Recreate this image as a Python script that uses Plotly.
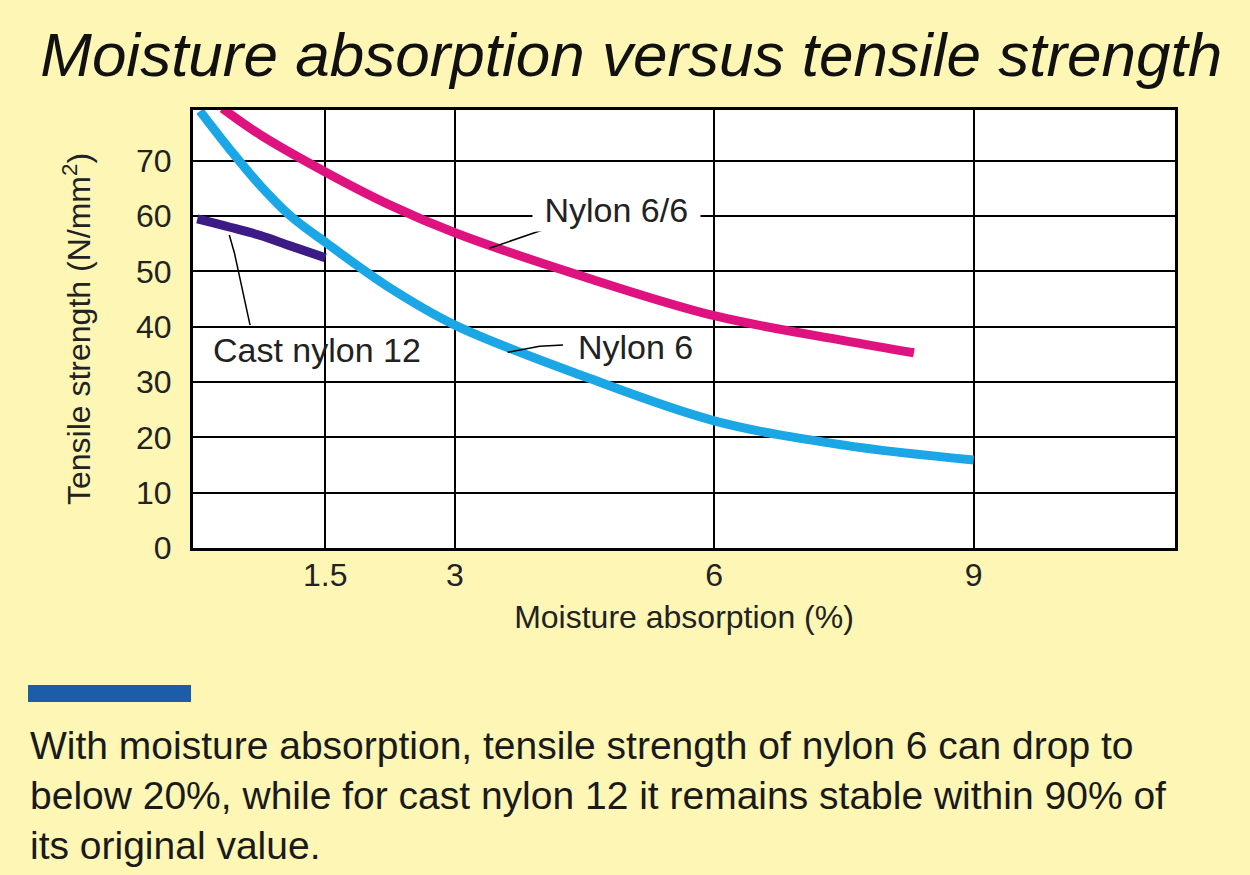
import plotly.graph_objects as go

# values
nylon6_x = [0.05, 0.4, 0.75, 1.1, 1.5, 2.25, 3, 4.5, 6, 7.5, 9]
nylon6_y = [79.0, 72.0, 65.5, 60.0, 55.3, 47.0, 40.3, 31.0, 23.0, 18.6, 15.9]

nylon66_x = [0.31, 0.75, 1.5, 2.25, 3, 4.5, 6, 7.5, 8.31]
nylon66_y = [79.5, 74.7, 68.0, 62.0, 57.0, 49.0, 42.0, 37.5, 35.3]

cast12_x = [0.02, 0.4, 0.75, 1.1, 1.5]
cast12_y = [59.5, 58.0, 56.5, 54.6, 52.5]

x_ticks = [1.5, 3, 6, 9]
x_ticktext = ["1.5", "3", "6", "9"]
y_ticks = [0, 10, 20, 30, 40, 50, 60, 70]

note_lines = [
    "With moisture absorption, tensile strength of nylon 6 can drop to",
    "below 20%, while for cast nylon 12 it remains stable within 90% of",
    "its original value.",
]

FONT = "Liberation Sans, Arial, sans-serif"
BG = "#FDF6B4"

fig = go.Figure()
fig.add_trace(go.Scatter(x=nylon66_x, y=nylon66_y, mode="lines", name="Nylon 6/6",
                         line=dict(color="#DF1380", width=9, shape="spline")))
fig.add_trace(go.Scatter(x=nylon6_x, y=nylon6_y, mode="lines", name="Nylon 6",
                         line=dict(color="#1BA6E6", width=9, shape="spline")))
fig.add_trace(go.Scatter(x=cast12_x, y=cast12_y, mode="lines", name="Cast nylon 12",
                         line=dict(color="#3C1B86", width=9, shape="spline")))

# leader lines from labels to curves
leaders = [
    [(3.40, 54.2), (4.18, 58.4)],
    [(3.61, 35.4), (3.98, 36.5), (4.25, 36.7)],
    [(0.39, 56.6), (0.45, 53.3), (0.63, 40.3)],
]
for pts in leaders:
    path = "M " + " L ".join(f"{x},{y}" for x, y in pts)
    fig.add_shape(type="path", path=path, xref="x", yref="y", layer="above",
                  line=dict(color="black", width=1.5))

fig.add_annotation(x=4.87, y=61.1, text=" Nylon 6/6 ", showarrow=False, bgcolor="white",
                   borderpad=2, font=dict(family=FONT, size=34, color="#222"))
fig.add_annotation(x=5.09, y=36.3, text="Nylon 6", showarrow=False,
                   font=dict(family=FONT, size=34, color="#222"))
fig.add_annotation(x=1.40, y=35.8, text="Cast nylon 12", showarrow=False,
                   font=dict(family=FONT, size=34, color="#222"))

# blue bar above the note
fig.add_shape(type="rect", xref="paper", yref="paper", x0=-0.168, x1=-0.002,
              y0=-0.3516, y1=-0.3128, fillcolor="#1B5EA7", line=dict(width=0))

for i, line in enumerate(note_lines):
    fig.add_annotation(xref="paper", yref="paper", x=-0.168, y=(548 - (745 + 50 * i)) / 438,
                       xanchor="left", yanchor="middle", text=line, showarrow=False,
                       font=dict(family=FONT, size=39, color="#1a1a1a"))

fig.update_layout(
    width=1250, height=875,
    margin=dict(l=193, r=75, t=110, b=327),
    paper_bgcolor=BG, plot_bgcolor="white",
    showlegend=False,
    font=dict(family=FONT, color="#222"),
    title=dict(text="Moisture absorption versus tensile strength", x=0.505, y=1 - 54 / 875,
               xanchor="center", yanchor="middle",
               font=dict(family=FONT, size=62, style="italic", color="#111")),
)
fig.update_xaxes(range=[-0.03, 11.33], tickvals=x_ticks, ticktext=x_ticktext,
                 showgrid=True, gridcolor="black", gridwidth=2, zeroline=False,
                 showline=True, mirror=True, linecolor="black", linewidth=3,
                 ticks="", ticklabelstandoff=-3, tickfont=dict(size=32),
                 title=dict(text="Moisture absorption (%)", standoff=14, font=dict(size=32)))
fig.update_yaxes(range=[0, 79.2], tickvals=y_ticks,
                 showgrid=True, gridcolor="black", gridwidth=2, zeroline=False,
                 showline=True, mirror=True, linecolor="black", linewidth=3,
                 ticks="", ticklabelstandoff=12, tickfont=dict(size=32),
                 title=dict(text="Tensile strength (N/mm<sup>2</sup>)", standoff=36,
                            font=dict(size=32)))

fig.write_html("out.html", config={"displayModeBar": False},
               post_script="document.body.style.margin='0';")
